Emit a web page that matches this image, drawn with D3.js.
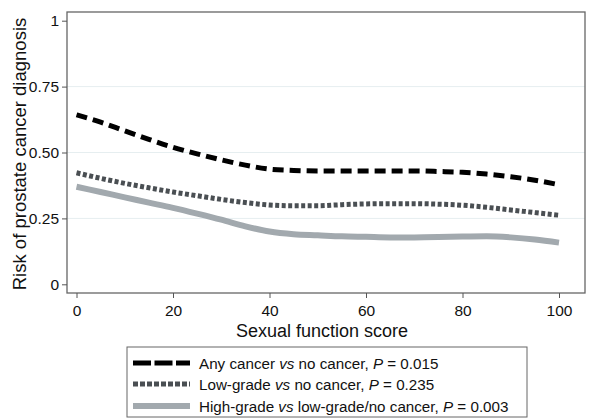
<!DOCTYPE html>
<html><head><meta charset="utf-8">
<script src="https://cdn.jsdelivr.net/npm/d3@7"></script>
<style>body{margin:0;background:#fff}svg{display:block}text{font-family:"Liberation Sans",Arial,sans-serif;fill:#111}</style>
</head><body><svg id="c" width="590" height="419"></svg>
<script>
const scores = [0,5,10,15,20,25,30,35,40,45,50,55,60,65,70,75,80,85,90,95,100];
const anyCancer = [0.643,0.615,0.582,0.550,0.520,0.495,0.472,0.452,0.437,0.432,0.430,0.430,0.430,0.430,0.430,0.428,0.425,0.418,0.408,0.395,0.378];
const lowGrade = [0.423,0.402,0.383,0.366,0.350,0.336,0.322,0.310,0.301,0.298,0.298,0.302,0.305,0.306,0.306,0.304,0.300,0.292,0.282,0.272,0.262];
const highGrade = [0.370,0.350,0.330,0.310,0.290,0.268,0.245,0.220,0.200,0.190,0.186,0.182,0.180,0.178,0.178,0.179,0.181,0.182,0.178,0.170,0.158];
const xTicks = [0,20,40,60,80,100];
const yTicks = [0,0.25,0.5,0.75,1];
const yTickLabels = ["0","0.25","0.50","0.75","1"];
const seriesNames = ["Any cancer", "Low-grade", "High-grade"];
const seriesRest = [" no cancer, ", " no cancer, ", " low-grade/no cancer, "];
const pValues = ["0.015","0.235","0.003"];

const svg = d3.select("#c");
const L=67, R=585, T=12, B=293;
const x = d3.scaleLinear().domain([0,100]).range([76.5,559]);
const y = d3.scaleLinear().domain([0,1]).range([284.3,20.7]);

// gridlines
svg.append("g").selectAll("line").data([0.25,0.5,0.75]).join("line")
  .attr("x1",L).attr("x2",R).attr("y1",d=>y(d)).attr("y2",d=>y(d))
  .attr("stroke","#e6eef0").attr("stroke-width",1);

// frame
svg.append("rect").attr("x",L).attr("y",T).attr("width",R-L).attr("height",B-T)
  .attr("fill","none").attr("stroke","#666").attr("stroke-width",1.3);

// axes
const yAxis = d3.axisLeft(y).tickValues(yTicks).tickSize(5).tickPadding(3)
  .tickFormat((d,i)=>yTickLabels[i]);
const gy = svg.append("g").attr("transform",`translate(${L},0)`).call(yAxis);
gy.select(".domain").remove();
gy.selectAll("line").attr("stroke","#555");
gy.selectAll("text").attr("font-size",15.5).style("font-family","'Liberation Sans',Arial,sans-serif").attr("fill","#111");

const xAxis = d3.axisBottom(x).tickValues(xTicks).tickSize(5).tickPadding(7);
const gx = svg.append("g").attr("transform",`translate(0,${B})`).call(xAxis);
gx.select(".domain").remove();
gx.selectAll("line").attr("stroke","#555");
gx.selectAll("text").attr("font-size",15.5).style("font-family","'Liberation Sans',Arial,sans-serif").attr("fill","#111");

// titles
svg.append("text").attr("x",322).attr("y",337).attr("text-anchor","middle")
  .attr("font-size",18).text("Sexual function score");
svg.append("text").attr("transform",`translate(26,154) rotate(-90)`).attr("text-anchor","middle")
  .attr("font-size",18.5).text("Risk of prostate cancer diagnosis");

const styles = [
  {color:"#000", width:5, dash:"11,6", ldash:"18,3.5"},
  {color:"#4a4f53", width:5, dash:"4,2.5", ldash:"5,2"},
  {color:"#a2a9ae", width:6, dash:null, ldash:null}
];
const data = [anyCancer, lowGrade, highGrade];
const line = d3.line().x((d,i)=>x(scores[i])).y(d=>y(d)).curve(d3.curveMonotoneX);
data.slice().reverse().forEach((s,ri)=>{
  const i = data.length-1-ri;
  svg.append("path").attr("d",line(s)).attr("fill","none")
    .attr("stroke",styles[i].color).attr("stroke-width",styles[i].width)
    .attr("stroke-dasharray",styles[i].dash).attr("stroke-linecap","butt");
});

// legend
const lg = svg.append("g");
lg.append("rect").attr("x",127).attr("y",347).attr("width",400).attr("height",70)
  .attr("fill","#fff").attr("stroke","#666").attr("stroke-width",1);
const rowsY = [363,384,406];
seriesNames.forEach((n,i)=>{
  lg.append("line").attr("x1",133).attr("x2",190).attr("y1",rowsY[i]).attr("y2",rowsY[i])
    .attr("stroke",styles[i].color).attr("stroke-width",styles[i].width)
    .attr("stroke-dasharray",styles[i].ldash);
  const t = lg.append("text").attr("x",199).attr("y",rowsY[i]+5.5).attr("font-size",15.2);
  t.append("tspan").text(n+" ");
  t.append("tspan").attr("font-style","italic").text("vs");
  t.append("tspan").text(seriesRest[i]);
  t.append("tspan").attr("font-style","italic").text("P");
  t.append("tspan").text(" = "+pValues[i]);
});
</script></body></html>
